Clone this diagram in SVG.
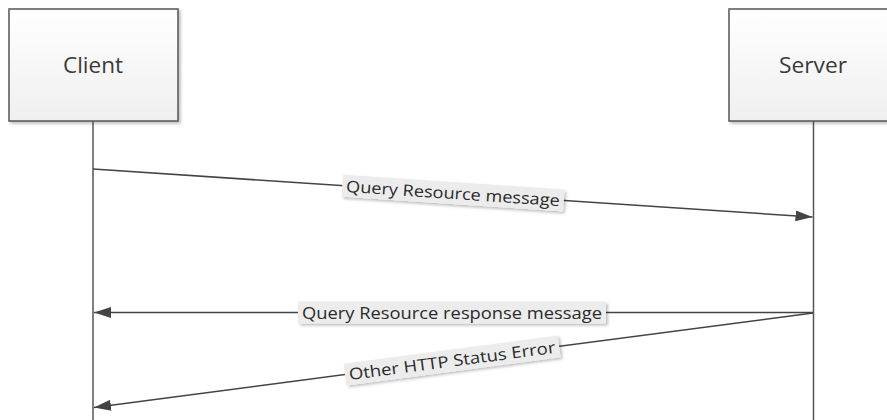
<svg xmlns="http://www.w3.org/2000/svg" width="887" height="420" viewBox="0 0 887 420">
  <style>
    .box { fill: url(#boxGrad); stroke: #555; stroke-width: 1.5; }
    .life { stroke: #555; stroke-width: 1.5; fill: none; }
    .msg { stroke: #444; stroke-width: 1.5; fill: none; marker-end: url(#arrow); }
    .nodeText { font-family: "Open Sans", "Liberation Sans", sans-serif; font-size: 21px; fill: #3a3a3a; text-anchor: middle; dominant-baseline: central; }
    .lblBg { fill: #ececec; }
    .lblText { font-family: "Open Sans", "Liberation Sans", sans-serif; font-size: 16px; fill: #2a2a2a; text-anchor: middle; dominant-baseline: central; }
  </style>
  <defs>
    <linearGradient id="boxGrad" x1="0" y1="0" x2="0" y2="1">
      <stop offset="0" stop-color="#ffffff"/>
      <stop offset="1" stop-color="#efefef"/>
    </linearGradient>
    <filter id="shadow" x="-10%" y="-30%" width="130%" height="170%">
      <feGaussianBlur in="SourceAlpha" stdDeviation="1.5"/>
      <feOffset dx="2" dy="2" result="b"/>
      <feComponentTransfer><feFuncA type="linear" slope="0.25"/></feComponentTransfer>
      <feMerge><feMergeNode/><feMergeNode in="SourceGraphic"/></feMerge>
    </filter>
    <marker id="arrow" markerUnits="userSpaceOnUse" markerWidth="18" markerHeight="12" refX="17" refY="5.5" orient="auto">
      <path d="M0,0 L17,5.5 L0,11 z" fill="#444"/>
    </marker>
  </defs>
  <rect width="887" height="420" fill="#ffffff"/>

  <g id="client">
    <rect class="box" x="9" y="9" width="169" height="112" filter="url(#shadow)"/>
    <text class="nodeText" x="93" y="65" textLength="60" lengthAdjust="spacingAndGlyphs">Client</text>
    <line class="life" x1="93" y1="121" x2="93" y2="420"/>
  </g>

  <g id="server">
    <rect class="box" x="729" y="9" width="169" height="112" filter="url(#shadow)"/>
    <text class="nodeText" x="813" y="65" textLength="68" lengthAdjust="spacingAndGlyphs">Server</text>
    <line class="life" x1="813.5" y1="121" x2="813.5" y2="420"/>
  </g>

  <g id="connectors">
    <line class="msg" x1="93" y1="169" x2="812.5" y2="217"/>
    <line class="msg" x1="813" y1="312.5" x2="94" y2="312.5"/>
    <line class="msg" x1="813" y1="313" x2="94" y2="407.5"/>
  </g>

  <g id="labels">
    <g transform="translate(453,193) rotate(3.81)">
      <rect class="lblBg" x="-111" y="-11" width="222" height="22" filter="url(#shadow)"/>
      <text class="lblText" x="0" y="0" textLength="214" lengthAdjust="spacingAndGlyphs">Query Resource message</text>
    </g>
    <g transform="translate(452,312.5)">
      <rect class="lblBg" x="-154" y="-11" width="308" height="22" filter="url(#shadow)"/>
      <text class="lblText" x="0" y="0" textLength="300" lengthAdjust="spacingAndGlyphs">Query Resource response message</text>
    </g>
    <g transform="translate(452,360.5) rotate(-7.52)">
      <rect class="lblBg" x="-108" y="-11" width="216" height="22" filter="url(#shadow)"/>
      <text class="lblText" x="0" y="0" textLength="208" lengthAdjust="spacingAndGlyphs">Other HTTP Status Error</text>
    </g>
  </g>
</svg>
